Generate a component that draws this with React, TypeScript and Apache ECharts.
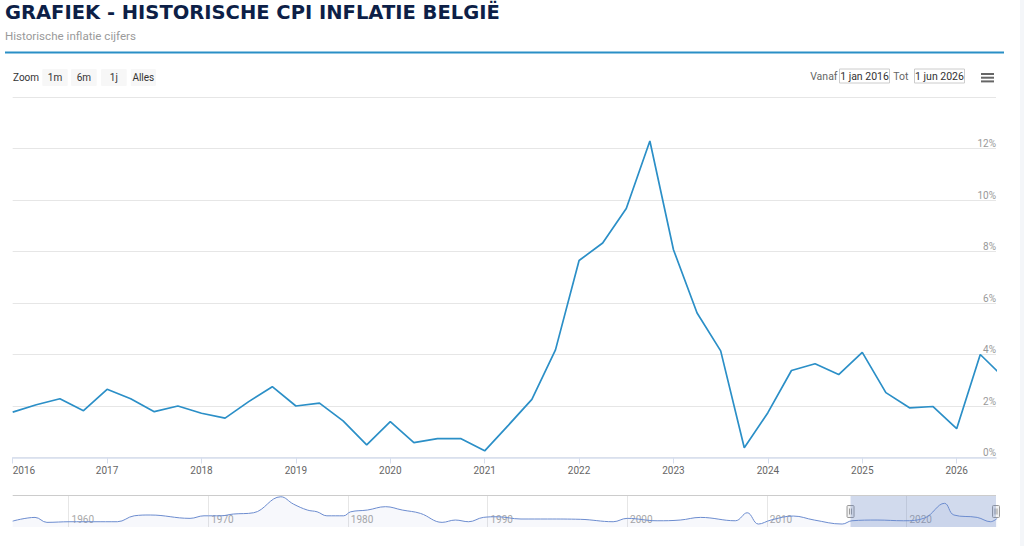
import React, { useEffect, useRef } from 'react';
import * as echarts from 'echarts';

// ---- Data ----
const quarterDates = [
  '2016-01', '2016-04', '2016-07', '2016-10',
  '2017-01', '2017-04', '2017-07', '2017-10',
  '2018-01', '2018-04', '2018-07', '2018-10',
  '2019-01', '2019-04', '2019-07', '2019-10',
  '2020-01', '2020-04', '2020-07', '2020-10',
  '2021-01', '2021-04', '2021-07', '2021-10',
  '2022-01', '2022-04', '2022-07', '2022-10',
  '2023-01', '2023-04', '2023-07', '2023-10',
  '2024-01', '2024-04', '2024-07', '2024-10',
  '2025-01', '2025-04', '2025-07', '2025-10',
  '2026-01', '2026-04', '2026-07',
];
const cpiValues = [
  1.76, 2.05, 2.28, 1.82,
  2.65, 2.28, 1.78, 2.0,
  1.72, 1.53, 2.17, 2.75,
  2.0, 2.11, 1.42, 0.49,
  1.39, 0.58, 0.73, 0.73,
  0.26, 1.25, 2.26, 4.18,
  7.65, 8.33, 9.67, 12.29,
  8.07, 5.61, 4.14, 0.38,
  1.74, 3.38, 3.64, 3.22,
  4.08, 2.52, 1.93, 1.98,
  1.12, 4.0, 3.1,
];
const yTickValues = [0, 2, 4, 6, 8, 10, 12, 14];
const xYearTicks = [2016, 2017, 2018, 2019, 2020, 2021, 2022, 2023, 2024, 2025, 2026];
const navDecades = [1960, 1970, 1980, 1990, 2000, 2010, 2020];

// navigator (long history, smoothed)
const navYears = [
  1956.0, 1957.6, 1958.45, 1960.1, 1961.8, 1963.5, 1964.7, 1965.85, 1968.7, 1969.7,
  1970.9, 1971.8, 1973.25, 1975.2, 1976.1, 1977.1, 1977.8, 1978.5, 1979.7, 1980.2,
  1981.4, 1982.7, 1983.9, 1985.2, 1986.75, 1987.7, 1988.65, 1989.7, 1990.7, 1992.4,
  1994.3, 1996.65, 1999.0, 2000.0, 2002.15, 2003.8, 2005.25, 2007.75, 2008.6, 2009.4,
  2010.3, 2011.9, 2013.4, 2015.4, 2016.1, 2017.9, 2019.8, 2021.3, 2022.73, 2023.4,
  2025.07, 2026.03, 2026.5,
];
const navValues = [
  1.1, 3.4, 0.3, 0.7, 0.7, 0.7, 4.4, 4.9, 2.8, 4.4,
  4.4, 5.5, 6.3, 16.3, 11.75, 8.0, 6.9, 4.4, 4.4, 6.9,
  8.0, 10.1, 8.0, 5.9, 0.3, 1.75, 0.7, 3.4, 3.8, 2.4,
  2.4, 2.2, 0.7, 2.8, 1.3, 1.75, 3.4, 1.3, 6.3, -0.75,
  1.75, 4.25, 1.75, -0.75, 1.3, 1.75, 1.3, 3.0, 12.2, 4.9,
  3.4, 0.7, 2.8,
];

const rangeButtons = ['1m', '6m', '1j', 'Alles'];
const titleText = 'GRAFIEK - HISTORISCHE CPI INFLATIE BELGIË';
const subtitleText = 'Historische inflatie cijfers';
const fromText = '1 jan 2016';
const toText = '1 jun 2026';
const rangeStart = '2016-01';
const rangeEnd = '2026-06';
const navStart = '1956-01';

function toYear(s: string): number {
  const [y, m] = s.split('-').map(Number);
  return y + (m - 1) / 12;
}

const FONT = 'Roboto, "Noto Sans", sans-serif';

export default function App() {
  const ref = useRef<HTMLDivElement>(null);

  useEffect(() => {
    if (!ref.current) return;
    const chart = echarts.init(ref.current, undefined, { renderer: 'svg' });

    const xMin = toYear(rangeStart);
    const xMax = toYear(rangeEnd);
    const navMin = toYear(navStart);
    const plotLeft = 12.7;
    const plotRight = 996;
    const pxPerYearNav = (plotRight - plotLeft) / (xMax - navMin);
    const navTop = 495;
    const navHeight = 32;
    const handleX1 = plotLeft + (xMin - navMin) * pxPerYearNav;
    const handleX2 = plotRight;

    const mainData = quarterDates.map((d, i) => [toYear(d), cpiValues[i]]);
    const navData = navYears.map((y, i) => [y, navValues[i]]);

    const buttonX = [42.3, 71, 101, 130.7];
    const buttonW = [25.4, 25.7, 25.7, 25.2];

    const handle = (cx: number) => ({
      type: 'group',
      x: cx,
      y: 505.5,
      z: 100,
      children: [
        { type: 'rect', shape: { x: -3.5, y: 0, width: 7, height: 12, r: 1 }, style: { fill: '#f2f2f2', stroke: '#999', lineWidth: 1 } },
        { type: 'line', shape: { x1: -1, y1: 3, x2: -1, y2: 9 }, style: { stroke: '#999', lineWidth: 1 } },
        { type: 'line', shape: { x1: 1, y1: 3, x2: 1, y2: 9 }, style: { stroke: '#999', lineWidth: 1 } },
      ],
    });

    const graphics: any[] = [
      { type: 'rect', shape: { x: 1020, y: 0, width: 4, height: 546 }, style: { fill: '#f4f6f9' }, silent: true },
      {
        type: 'text', x: 5, y: 12,
        style: { text: titleText, font: 'bold 19.5px "DejaVu Sans", sans-serif', fill: '#0d1f47', verticalAlign: 'middle', align: 'left' },
      },
      {
        type: 'text', x: 5, y: 36,
        style: { text: subtitleText, font: `11.6px ${FONT}`, fill: '#9a9a9a', verticalAlign: 'middle', align: 'left' },
      },
      { type: 'line', shape: { x1: 5, y1: 52.5, x2: 1004, y2: 52.5 }, style: { stroke: '#2a8fc6', lineWidth: 2 } },
      {
        type: 'text', x: 13, y: 77.5,
        style: { text: 'Zoom', font: `10px ${FONT}`, fill: '#333', verticalAlign: 'middle', align: 'left' },
      },
      ...rangeButtons.flatMap((b, i) => [
        { type: 'rect', shape: { x: buttonX[i], y: 69, width: buttonW[i], height: 17, r: 1 }, style: { fill: '#f7f7f7' } },
        {
          type: 'text', x: buttonX[i] + buttonW[i] / 2, y: 77.5,
          style: { text: b, font: `10px ${FONT}`, fill: '#333', verticalAlign: 'middle', align: 'center' },
        },
      ]),
      {
        type: 'text', x: 837.5, y: 76,
        style: { text: 'Vanaf', font: `10.5px ${FONT}`, fill: '#666', verticalAlign: 'middle', align: 'right' },
      },
      { type: 'rect', shape: { x: 839.5, y: 69, width: 50, height: 14 }, style: { fill: '#fff', stroke: '#cccccc', lineWidth: 1 } },
      {
        type: 'text', x: 864.5, y: 76,
        style: { text: fromText, font: `10.5px ${FONT}`, fill: '#333', verticalAlign: 'middle', align: 'center' },
      },
      {
        type: 'text', x: 908.5, y: 76,
        style: { text: 'Tot', font: `10.5px ${FONT}`, fill: '#666', verticalAlign: 'middle', align: 'right' },
      },
      { type: 'rect', shape: { x: 914.5, y: 69, width: 50, height: 14 }, style: { fill: '#fff', stroke: '#cccccc', lineWidth: 1 } },
      {
        type: 'text', x: 939.5, y: 76,
        style: { text: toText, font: `10.5px ${FONT}`, fill: '#333', verticalAlign: 'middle', align: 'center' },
      },
      { type: 'rect', shape: { x: 981, y: 73, width: 13, height: 2 }, style: { fill: '#666' } },
      { type: 'rect', shape: { x: 981, y: 76.7, width: 13, height: 2 }, style: { fill: '#666' } },
      { type: 'rect', shape: { x: 981, y: 80.4, width: 13, height: 2 }, style: { fill: '#666' } },
      { type: 'line', shape: { x1: plotLeft, y1: navTop + 0.5, x2: plotRight, y2: navTop + 0.5 }, style: { stroke: '#cccccc', lineWidth: 1 }, z: 50 },
      handle(handleX1),
      handle(handleX2),
    ];

    chart.setOption({
      animation: false,
      backgroundColor: '#ffffff',
      textStyle: { fontFamily: FONT },
      grid: [
        { left: plotLeft, right: 1024 - plotRight, top: 97, bottom: 88.5 },
        { left: plotLeft, right: 1024 - plotRight, top: navTop, height: navHeight },
      ],
      xAxis: [
        {
          gridIndex: 0,
          type: 'value',
          min: xMin,
          max: xMax,
          interval: 1,
          axisLine: { show: true, lineStyle: { color: '#d6deee', width: 1.5 } },
          axisTick: { show: true, length: 6, lineStyle: { color: '#d6deee', width: 1 }, customValues: xYearTicks },
          axisLabel: {
            formatter: (v: number) => (Number.isInteger(v) ? String(v) : ''),
            color: '#666',
            fontSize: 10,
            fontFamily: FONT,
            margin: 8,
            alignMinLabel: 'left',
          },
          splitLine: { show: false },
        },
        {
          gridIndex: 1,
          type: 'value',
          min: navMin,
          max: xMax,
          splitNumber: 7,
          axisLine: { show: false },
          axisTick: { show: false, customValues: navDecades },
          axisLabel: {
            inside: true,
            customValues: navDecades,
            formatter: (v: number) => (Math.round(v) % 10 === 0 && Number.isInteger(v) ? String(v) : ''),
            color: '#a8a8a8',
            fontSize: 10,
            fontFamily: FONT,
            align: 'left',
            margin: 3,
            padding: [0, 0, 0, 3],
          },
          splitLine: { show: true, lineStyle: { color: '#e6e6e6', width: 1 } },
        },
      ],
      yAxis: [
        {
          gridIndex: 0,
          type: 'value',
          position: 'right',
          min: yTickValues[0],
          max: yTickValues[yTickValues.length - 1],
          interval: 2,
          axisLine: { show: false },
          axisTick: { show: false },
          axisLabel: {
            inside: true,
            formatter: (v: number) => (v === 14 ? '' : `${v}%`),
            color: '#999',
            fontSize: 10,
            fontFamily: FONT,
            margin: 0,
            verticalAlign: 'bottom',
            padding: [0, 0, 0, 0],
          },
          splitLine: { show: true, lineStyle: { color: '#e6e6e6', width: 1 } },
        },
        { gridIndex: 1, type: 'value', min: -2.6, max: 17.4, show: false },
      ],
      series: [
        {
          type: 'line',
          xAxisIndex: 0,
          yAxisIndex: 0,
          data: mainData,
          symbol: 'none',
          showSymbol: false,
          clip: true,
          lineStyle: { color: '#2b8fc7', width: 1.7 },
          silent: true,
        },
        {
          type: 'line',
          xAxisIndex: 1,
          yAxisIndex: 1,
          data: navData,
          smooth: 0.4,
          symbol: 'none',
          showSymbol: false,
          clip: true,
          lineStyle: { color: '#6c8ccf', width: 1 },
          areaStyle: { color: 'rgba(102,133,194,0.08)', origin: 'start' },
          silent: true,
          markArea: {
            silent: true,
            itemStyle: { color: 'rgba(102,133,194,0.3)' },
            data: [[{ xAxis: xMin }, { xAxis: xMax }]],
          },
        },
      ],
      graphic: graphics,
    });

    return () => chart.dispose();
  }, []);

  return <div ref={ref} style={{ position: 'absolute', left: 0, top: 0, width: 1024, height: 546 }} />;
}
